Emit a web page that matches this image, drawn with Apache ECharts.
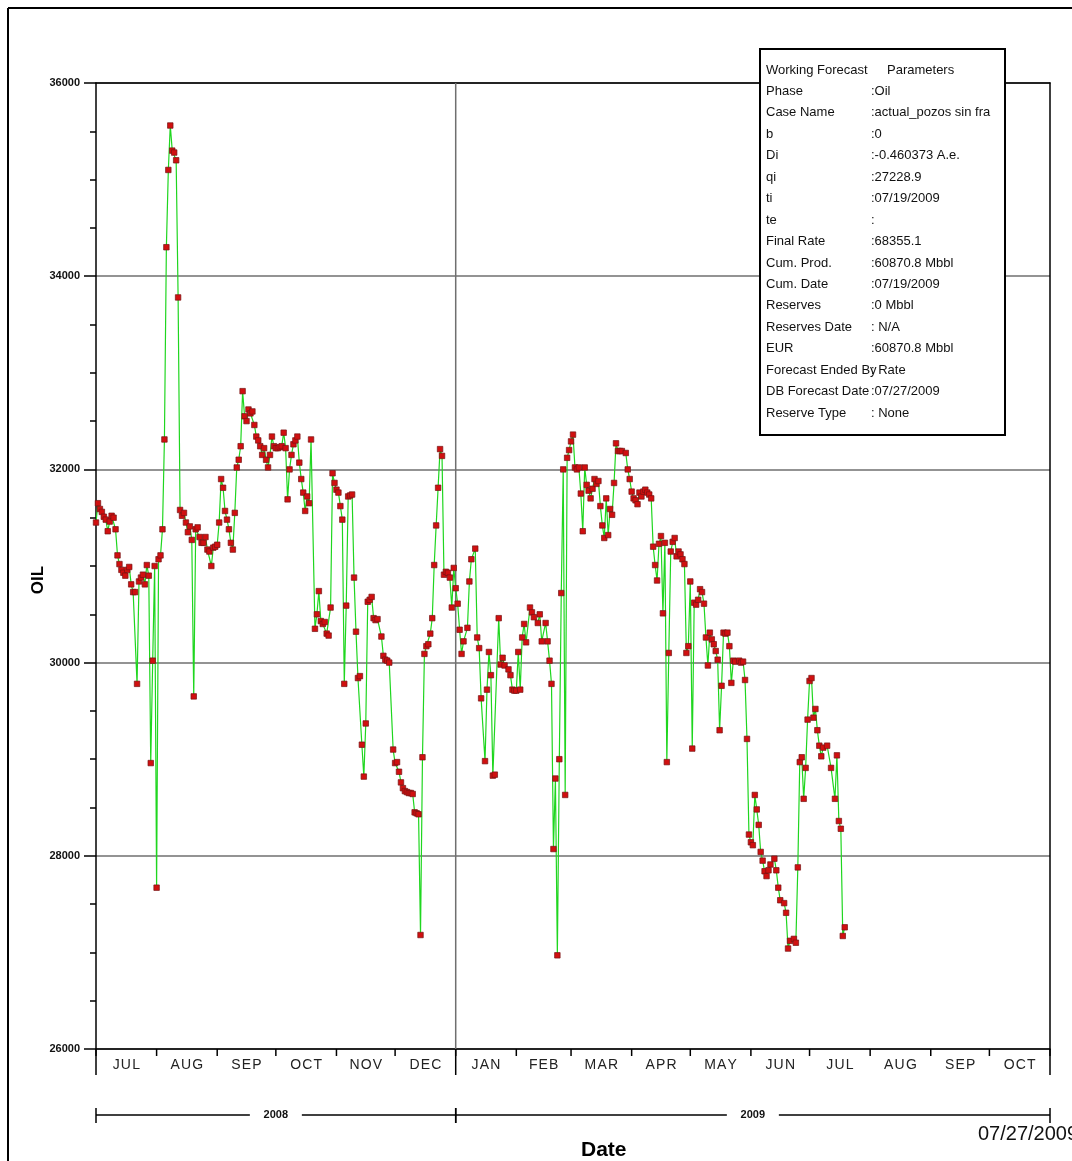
<!DOCTYPE html>
<html>
<head>
<meta charset="utf-8">
<title>OIL rate vs Date</title>
<script src="https://cdn.jsdelivr.net/npm/echarts@6/dist/echarts.min.js"></script>
<style>
  html, body { margin: 0; padding: 0; background: #fff; }
  #chart { width: 1072px; height: 1161px; }
</style>
</head>
<body>
<div id="chart"></div>
<script>
// Daily oil rate readings [date, rate]
const oilRate = [
  ['2008-07-01',31450],['2008-07-02',31650],['2008-07-03',31590],['2008-07-04',31560],['2008-07-05',31510],
  ['2008-07-06',31480],['2008-07-07',31360],['2008-07-08',31460],['2008-07-09',31520],['2008-07-10',31500],
  ['2008-07-11',31380],['2008-07-12',31110],['2008-07-13',31020],['2008-07-14',30960],['2008-07-15',30930],
  ['2008-07-16',30900],['2008-07-17',30960],['2008-07-18',30990],['2008-07-19',30810],['2008-07-20',30730],
  ['2008-07-21',30730],['2008-07-22',29780],['2008-07-23',30840],['2008-07-24',30880],['2008-07-25',30910],
  ['2008-07-26',30810],['2008-07-27',31010],['2008-07-28',30900],['2008-07-29',28960],['2008-07-30',30020],
  ['2008-07-31',31000],
  ['2008-08-01',27670],['2008-08-02',31070],['2008-08-03',31110],['2008-08-04',31380],['2008-08-05',32310],
  ['2008-08-06',34300],['2008-08-07',35100],['2008-08-08',35560],['2008-08-09',35300],['2008-08-10',35280],
  ['2008-08-11',35200],['2008-08-12',33780],['2008-08-13',31580],['2008-08-14',31520],['2008-08-15',31550],
  ['2008-08-16',31450],['2008-08-17',31350],['2008-08-18',31410],['2008-08-19',31270],['2008-08-20',29650],
  ['2008-08-21',31380],['2008-08-22',31400],['2008-08-23',31300],['2008-08-24',31240],['2008-08-25',31240],
  ['2008-08-26',31300],['2008-08-27',31170],['2008-08-28',31150],['2008-08-29',31000],['2008-08-30',31190],
  ['2008-08-31',31200],
  ['2008-09-01',31220],['2008-09-02',31450],['2008-09-03',31900],['2008-09-04',31810],['2008-09-05',31570],
  ['2008-09-06',31480],['2008-09-07',31380],['2008-09-08',31240],['2008-09-09',31170],['2008-09-10',31550],
  ['2008-09-11',32020],['2008-09-12',32100],['2008-09-13',32240],['2008-09-14',32810],['2008-09-15',32550],
  ['2008-09-16',32500],['2008-09-17',32620],['2008-09-18',32580],['2008-09-19',32600],['2008-09-20',32460],
  ['2008-09-21',32340],['2008-09-22',32300],['2008-09-23',32240],['2008-09-24',32150],['2008-09-25',32220],
  ['2008-09-26',32100],['2008-09-27',32020],['2008-09-28',32150],['2008-09-29',32340],['2008-09-30',32240],
  ['2008-10-01',32220],['2008-10-02',32220],['2008-10-03',32230],['2008-10-04',32240],['2008-10-05',32380],
  ['2008-10-06',32220],['2008-10-07',31690],['2008-10-08',32000],['2008-10-09',32150],['2008-10-10',32260],
  ['2008-10-11',32300],['2008-10-12',32340],['2008-10-13',32070],['2008-10-14',31900],['2008-10-15',31760],
  ['2008-10-16',31570],['2008-10-17',31720],['2008-10-18',31650],['2008-10-19',32310],['2008-10-21',30350],
  ['2008-10-22',30500],['2008-10-23',30740],['2008-10-24',30430],['2008-10-25',30400],['2008-10-26',30420],
  ['2008-10-27',30300],['2008-10-28',30280],['2008-10-29',30570],['2008-10-30',31960],['2008-10-31',31860],
  ['2008-11-01',31790],['2008-11-02',31760],['2008-11-03',31620],['2008-11-04',31480],['2008-11-05',29780],
  ['2008-11-06',30590],['2008-11-07',31720],['2008-11-08',31730],['2008-11-09',31740],['2008-11-10',30880],
  ['2008-11-11',30320],['2008-11-12',29840],['2008-11-13',29860],['2008-11-14',29150],['2008-11-15',28820],
  ['2008-11-16',29370],['2008-11-17',30630],['2008-11-18',30650],['2008-11-19',30680],['2008-11-20',30460],
  ['2008-11-21',30440],['2008-11-22',30450],['2008-11-24',30270],['2008-11-25',30070],['2008-11-26',30030],
  ['2008-11-27',30020],['2008-11-28',30000],['2008-11-30',29100],
  ['2008-12-01',28960],['2008-12-02',28970],['2008-12-03',28870],['2008-12-04',28760],['2008-12-05',28700],
  ['2008-12-06',28670],['2008-12-07',28660],['2008-12-08',28650],['2008-12-09',28650],['2008-12-10',28640],
  ['2008-12-11',28450],['2008-12-12',28440],['2008-12-13',28430],['2008-12-14',27180],['2008-12-15',29020],
  ['2008-12-16',30090],['2008-12-17',30170],['2008-12-18',30190],['2008-12-19',30300],['2008-12-20',30460],
  ['2008-12-21',31010],['2008-12-22',31420],['2008-12-23',31810],['2008-12-24',32210],['2008-12-25',32140],
  ['2008-12-26',30910],['2008-12-27',30940],['2008-12-28',30930],['2008-12-29',30880],['2008-12-30',30570],
  ['2008-12-31',30980],
  ['2009-01-01',30770],['2009-01-02',30610],['2009-01-03',30340],['2009-01-04',30090],['2009-01-05',30220],
  ['2009-01-07',30360],['2009-01-08',30840],['2009-01-09',31070],['2009-01-11',31180],['2009-01-12',30260],
  ['2009-01-13',30150],['2009-01-14',29630],['2009-01-16',28980],['2009-01-17',29720],['2009-01-18',30110],
  ['2009-01-19',29870],['2009-01-20',28830],['2009-01-21',28840],['2009-01-23',30460],['2009-01-24',29980],
  ['2009-01-25',30050],['2009-01-26',29970],['2009-01-28',29930],['2009-01-29',29870],['2009-01-30',29720],
  ['2009-01-31',29710],
  ['2009-02-01',29710],['2009-02-02',30110],['2009-02-03',29720],['2009-02-04',30260],['2009-02-05',30400],
  ['2009-02-06',30210],['2009-02-08',30570],['2009-02-09',30520],['2009-02-10',30470],['2009-02-12',30410],
  ['2009-02-13',30500],['2009-02-14',30220],['2009-02-16',30410],['2009-02-17',30220],['2009-02-18',30020],
  ['2009-02-19',29780],['2009-02-20',28070],['2009-02-21',28800],['2009-02-22',26970],['2009-02-23',29000],
  ['2009-02-24',30720],['2009-02-25',32000],['2009-02-26',28630],['2009-02-27',32120],['2009-02-28',32200],
  ['2009-03-01',32290],['2009-03-02',32360],['2009-03-03',32020],['2009-03-04',32000],['2009-03-05',32020],
  ['2009-03-06',31750],['2009-03-07',31360],['2009-03-08',32020],['2009-03-09',31840],['2009-03-10',31780],
  ['2009-03-11',31700],['2009-03-12',31800],['2009-03-13',31900],['2009-03-14',31850],['2009-03-15',31880],
  ['2009-03-16',31620],['2009-03-17',31420],['2009-03-18',31290],['2009-03-19',31700],['2009-03-20',31320],
  ['2009-03-21',31590],['2009-03-22',31530],['2009-03-23',31860],['2009-03-24',32270],['2009-03-25',32190],
  ['2009-03-26',32190],['2009-03-27',32190],['2009-03-29',32170],['2009-03-30',32000],['2009-03-31',31900],
  ['2009-04-01',31770],['2009-04-02',31700],['2009-04-03',31680],['2009-04-04',31640],['2009-04-05',31760],
  ['2009-04-06',31720],['2009-04-07',31770],['2009-04-08',31790],['2009-04-09',31760],['2009-04-10',31740],
  ['2009-04-11',31700],['2009-04-12',31200],['2009-04-13',31010],['2009-04-14',30850],['2009-04-15',31230],
  ['2009-04-16',31310],['2009-04-17',30510],['2009-04-18',31240],['2009-04-19',28970],['2009-04-20',30100],
  ['2009-04-21',31150],['2009-04-22',31250],['2009-04-23',31290],['2009-04-24',31100],['2009-04-25',31150],
  ['2009-04-26',31120],['2009-04-27',31070],['2009-04-28',31020],['2009-04-29',30100],['2009-04-30',30170],
  ['2009-05-01',30840],['2009-05-02',29110],['2009-05-03',30620],['2009-05-04',30600],['2009-05-05',30650],
  ['2009-05-06',30760],['2009-05-07',30730],['2009-05-08',30610],['2009-05-09',30260],['2009-05-10',29970],
  ['2009-05-11',30310],['2009-05-12',30240],['2009-05-13',30190],['2009-05-14',30120],['2009-05-15',30030],
  ['2009-05-16',29300],['2009-05-17',29760],['2009-05-18',30310],['2009-05-19',30300],['2009-05-20',30310],
  ['2009-05-21',30170],['2009-05-22',29790],['2009-05-23',30020],['2009-05-24',30010],['2009-05-26',30020],
  ['2009-05-27',30000],['2009-05-28',30010],['2009-05-29',29820],['2009-05-30',29210],['2009-05-31',28220],
  ['2009-06-01',28140],['2009-06-02',28110],['2009-06-03',28630],['2009-06-04',28480],['2009-06-05',28320],
  ['2009-06-06',28040],['2009-06-07',27950],['2009-06-08',27840],['2009-06-09',27790],['2009-06-10',27850],
  ['2009-06-11',27910],['2009-06-13',27970],['2009-06-14',27850],['2009-06-15',27670],['2009-06-16',27540],
  ['2009-06-18',27510],['2009-06-19',27410],['2009-06-20',27040],['2009-06-21',27120],['2009-06-23',27140],
  ['2009-06-24',27100],['2009-06-25',27880],['2009-06-26',28970],['2009-06-27',29020],['2009-06-28',28590],
  ['2009-06-29',28910],['2009-06-30',29410],
  ['2009-07-01',29810],['2009-07-02',29840],['2009-07-03',29430],['2009-07-04',29520],['2009-07-05',29300],
  ['2009-07-06',29140],['2009-07-07',29030],['2009-07-08',29120],['2009-07-10',29140],['2009-07-12',28910],
  ['2009-07-14',28590],['2009-07-15',29040],['2009-07-16',28360],['2009-07-17',28280],['2009-07-18',27170],
  ['2009-07-19',27260]
];

// Month boundaries of the date axis and the names written between them
const monthStarts = [
  '2008-07-01','2008-08-01','2008-09-01','2008-10-01','2008-11-01','2008-12-01',
  '2009-01-01','2009-02-01','2009-03-01','2009-04-01','2009-05-01','2009-06-01',
  '2009-07-01','2009-08-01','2009-09-01','2009-10-01','2009-11-01'
];
const monthLabels = ['JUL','AUG','SEP','OCT','NOV','DEC','JAN','FEB','MAR','APR','MAY','JUN','JUL','AUG','SEP','OCT'];

// Year brackets under the month row
const yearSpans = [
  ['2008-07-01', '2009-01-01', '2008'],
  ['2009-01-01', '2009-11-01', '2009']
];

// OIL axis range and label step
const rateMin = 26000;
const rateMax = 36000;
const rateStep = 2000;

// Forecast parameter box
const paramRows = [
  ['Working Forecast', 'Parameters'],
  ['Phase', ':Oil'],
  ['Case Name', ':actual_pozos sin fra'],
  ['b', ':0'],
  ['Di', ':-0.460373 A.e.'],
  ['qi', ':27228.9'],
  ['ti', ':07/19/2009'],
  ['te', ':'],
  ['Final Rate', ':68355.1'],
  ['Cum. Prod.', ':60870.8 Mbbl'],
  ['Cum. Date', ':07/19/2009'],
  ['Reserves', ':0 Mbbl'],
  ['Reserves Date', ': N/A'],
  ['EUR', ':60870.8 Mbbl'],
  ['Forecast Ended By', ': Rate'],
  ['DB Forecast Date', ':07/27/2009'],
  ['Reserve Type', ': None']
];
const forecastDate = '07/27/2009';

// 'YYYY-MM-DD' -> local timestamp (same convention ECharts uses for date strings)
function parseDay(s) {
  const p = s.split('-').map(Number);
  return new Date(p[0], p[1] - 1, p[2]).getTime();
}

const SANS = "'Liberation Sans', Arial, sans-serif";
const chart = echarts.init(document.getElementById('chart'), null, { renderer: 'canvas' });

const xMin = parseDay(monthStarts[0]);
const xMax = parseDay(monthStarts[monthStarts.length - 1]);

chart.setOption({
  animation: false,
  backgroundColor: '#ffffff',
  grid: { left: 96, top: 83, right: 22, bottom: 112, containLabel: false },
  xAxis: [
    {
      type: 'time', min: xMin, max: xMax,
      axisLine: { show: true, lineStyle: { color: '#000', width: 1.5 } },
      axisTick: { show: false }, axisLabel: { show: false }, splitLine: { show: false }
    },
    {
      type: 'time', min: xMin, max: xMax, position: 'top',
      axisLine: { show: true, lineStyle: { color: '#000', width: 1.5 } },
      axisTick: { show: false }, axisLabel: { show: false }, splitLine: { show: false }
    }
  ],
  yAxis: [
    {
      type: 'value', min: rateMin, max: rateMax, interval: rateStep,
      axisLine: { show: true, lineStyle: { color: '#000', width: 1.5 } },
      axisTick: { show: true, length: 12, lineStyle: { color: '#000', width: 1.5 } },
      minorTick: { show: true, splitNumber: 4, length: 6, lineStyle: { color: '#000', width: 1.5 } },
      axisLabel: { margin: 16, fontFamily: SANS, fontWeight: 'bold', fontSize: 11, color: '#111',
        formatter: v => String(v) },
      splitLine: { show: true, lineStyle: { color: '#6f6f6f', width: 1.5 } }
    },
    {
      type: 'value', min: rateMin, max: rateMax, position: 'right',
      axisLine: { show: true, lineStyle: { color: '#000', width: 1.5 } },
      axisTick: { show: false }, axisLabel: { show: false }, splitLine: { show: false }
    }
  ],
  series: [
    {
      type: 'line',
      data: oilRate.map(d => [parseDay(d[0]), d[1]]),
      showSymbol: true, showAllSymbol: true,
      symbol: 'rect', symbolSize: 5.5,
      lineStyle: { color: '#1fd61f', width: 1.2 },
      itemStyle: { color: '#d01010', borderColor: '#761414', borderWidth: 0.7 },
      z: 3
    }
  ]
});

// Axis decorations placed through the chart's own scales
const px = s => chart.convertToPixel({ xAxisIndex: 0 }, parseDay(s));
const yBottom = chart.convertToPixel({ yAxisIndex: 0 }, rateMin);
const yTop = chart.convertToPixel({ yAxisIndex: 0 }, rateMax);
const blk = { stroke: '#000', lineWidth: 1.5 };
const g = [];

// outer page frame (top and left edges)
g.push({ type: 'line', shape: { x1: 8, y1: 8, x2: 1072, y2: 8 }, style: { stroke: '#000', lineWidth: 2 }, z: 10 });
g.push({ type: 'line', shape: { x1: 8, y1: 8, x2: 8, y2: 1161 }, style: { stroke: '#000', lineWidth: 2 }, z: 10 });

// rate axis title, reading bottom to top
g.push({ type: 'text', x: 38, y: 580, rotation: Math.PI / 2, z: 10,
  style: { text: 'OIL', fill: '#000', font: 'bold 17px ' + SANS, textAlign: 'center', textVerticalAlign: 'middle' } });

// year divider gridline inside the plot
g.push({ type: 'line', shape: { x1: px('2009-01-01'), y1: yTop, x2: px('2009-01-01'), y2: yBottom },
  style: { stroke: '#6f6f6f', lineWidth: 1.5 }, z: 1 });

// month ticks and month names
monthStarts.forEach(m => {
  const x = px(m);
  g.push({ type: 'line', shape: { x1: x, y1: yBottom, x2: x, y2: yBottom + 7 }, style: blk, z: 10 });
});
monthLabels.forEach((lab, i) => {
  const x = (px(monthStarts[i]) + px(monthStarts[i + 1])) / 2;
  g.push({ type: 'text', x: x, y: yBottom + 16, z: 10,
    style: { text: lab.split('').join('\u200A'), fill: '#222', font: '14px ' + SANS, textAlign: 'center', textVerticalAlign: 'middle' } });
});

// long ticks at the year boundaries
[monthStarts[0], '2009-01-01', monthStarts[monthStarts.length - 1]].forEach(m => {
  const x = px(m);
  g.push({ type: 'line', shape: { x1: x, y1: yBottom, x2: x, y2: yBottom + 26 }, style: blk, z: 10 });
});

// year brackets
const yYear = yBottom + 66;
yearSpans.forEach(s => {
  const x1 = px(s[0]), x2 = px(s[1]);
  const mid = (x1 + x2) / 2;
  g.push({ type: 'line', shape: { x1: x1, y1: yYear, x2: mid - 26, y2: yYear }, style: blk, z: 10 });
  g.push({ type: 'line', shape: { x1: mid + 26, y1: yYear, x2: x2, y2: yYear }, style: blk, z: 10 });
  g.push({ type: 'line', shape: { x1: x1, y1: yYear - 7, x2: x1, y2: yYear + 8 }, style: blk, z: 10 });
  g.push({ type: 'line', shape: { x1: x2, y1: yYear - 7, x2: x2, y2: yYear + 8 }, style: blk, z: 10 });
  g.push({ type: 'text', x: mid, y: yYear, z: 10,
    style: { text: s[2], fill: '#111', font: 'bold 11px ' + SANS, textAlign: 'center', textVerticalAlign: 'middle' } });
});

// axis title and forecast date stamp
g.push({ type: 'text', x: 581, y: 1150, z: 10,
  style: { text: 'Date', fill: '#000', font: 'bold 21px ' + SANS, textAlign: 'left', textVerticalAlign: 'middle' } });
g.push({ type: 'text', x: 978, y: 1134, z: 10,
  style: { text: forecastDate, fill: '#111', font: '20px ' + SANS, textAlign: 'left', textVerticalAlign: 'middle' } });

// forecast parameter box
g.push({ type: 'rect', shape: { x: 760, y: 49, width: 245, height: 386 },
  style: { fill: '#fff', stroke: '#000', lineWidth: 2 }, z: 20 });
paramRows.forEach((r, i) => {
  const y = 70 + i * 21.44;
  g.push({ type: 'text', x: 766, y: y, z: 21,
    style: { text: r[0], fill: '#111', font: '13px ' + SANS, textAlign: 'left', textVerticalAlign: 'middle' } });
  g.push({ type: 'text', x: i === 0 ? 887 : 871, y: y, z: 21,
    style: { text: r[1], fill: '#111', font: '13px ' + SANS, textAlign: 'left', textVerticalAlign: 'middle' } });
});

chart.setOption({ graphic: g });
</script>
</body>
</html>
